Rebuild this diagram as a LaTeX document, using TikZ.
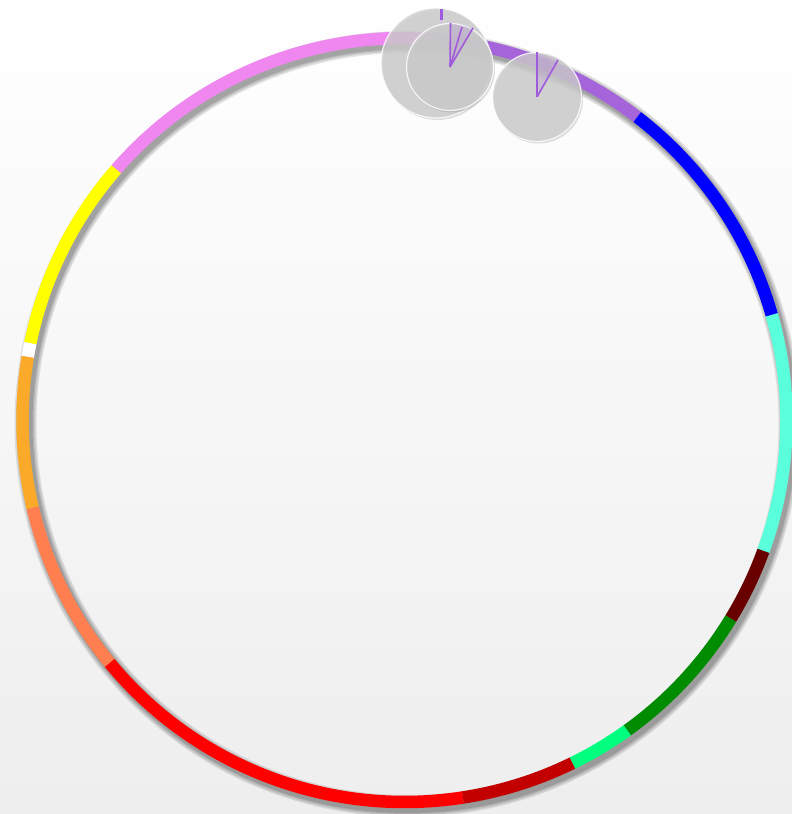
\documentclass[tikz,border=0pt]{standalone}
\usetikzlibrary{shadows}
\definecolor{ringpink}{RGB}{240,135,240}
\definecolor{ringpurple}{RGB}{165,100,218}
\definecolor{ringblue}{RGB}{0,0,255}
\definecolor{ringaqua}{RGB}{90,255,220}
\definecolor{ringmaroon}{RGB}{105,0,0}
\definecolor{ringgreen}{RGB}{0,140,0}
\definecolor{ringspring}{RGB}{0,255,127}
\definecolor{ringdarkred}{RGB}{195,0,0}
\definecolor{ringred}{RGB}{255,0,0}
\definecolor{ringcoral}{RGB}{255,127,80}
\definecolor{ringorange}{RGB}{250,170,40}
\definecolor{ringyellow}{RGB}{255,255,0}
\definecolor{knobgray}{RGB}{205,205,205}
\definecolor{needlepurple}{RGB}{160,90,220}
\definecolor{bgbottom}{RGB}{238,238,238}
\begin{document}
\begin{tikzpicture}[
    x=1pt, y=1pt,
    seg/.style={line width=12.5pt, line cap=butt},
    knob/.style={circle, inner sep=0pt, draw=white, line width=1.2pt, draw opacity=0.8,
      fill=knobgray, fill opacity=0.78,
      drop shadow={opacity=0.25, shadow xshift=1.5pt, shadow yshift=-2pt}},
    needle/.style={draw=needlepurple, line width=1.6pt}
  ]
    \useasboundingbox (0,0) rectangle (792,814);
    \shade[top color=white, bottom color=bgbottom] (0,0) rectangle (792,814);

    \coordinate (ctr) at (404.5,394);
    \foreach \w in {22,19,16,14}
      \draw[black, opacity=0.1, line width=\w pt] ([shift={(3,-4)}]ctr) circle[radius=382pt];
    \foreach \a/\b/\col in {85/139/ringpink, 139/168.4/ringyellow, 168.4/170.5/white,
        170.5/193.3/ringorange, 193.3/219.5/ringcoral, 219.5/278.8/ringred,
        278.8/296.1/ringdarkred, 296.1/305.7/ringspring, 305.7/328.7/ringgreen,
        328.7/340/ringmaroon, 340/376/ringaqua, 16/52.5/ringblue, 52.5/85/ringpurple}
      \draw[seg, \col] ([shift={(\a:382pt)}]ctr) arc[start angle=\a, end angle=\b, radius=382pt];

    \node[knob, minimum size=110pt] (knobA) at (436,751) {};
    \coordinate (aTop) at (441,805);
    \coordinate (aMid) at (441,794);
    \coordinate (aBase) at (443,752);
    \draw[needlepurple, line width=3pt] (aTop) -- (aMid);
    \draw[needlepurple!45, line width=1pt] (aMid) -- (aBase);

    \node[knob, minimum size=87pt] (knobB) at (450,747) {};
    \coordinate (bTip1) at (450.5,791);
    \coordinate (bTip2) at (462,787);
    \coordinate (bTip3) at (473,786);
    \fill[needlepurple, opacity=0.15] (knobB.center) -- (bTip1) -- (bTip3) -- cycle;
    \draw[needle] (knobB.center) -- (bTip1);
    \draw[needle] (knobB.center) -- (bTip2);
    \draw[needle] (knobB.center) -- (bTip3);

    \node[knob, minimum size=89pt] (knobC) at (537,717) {};
    \coordinate (cTip1) at (537,762);
    \coordinate (cTip2) at (558,754);
    \fill[needlepurple, opacity=0.15] (knobC.center) -- (cTip1) -- (cTip2) -- cycle;
    \draw[needle] (knobC.center) -- (cTip1);
    \draw[needle] (knobC.center) -- (cTip2);
  \end{tikzpicture}
\end{document}
